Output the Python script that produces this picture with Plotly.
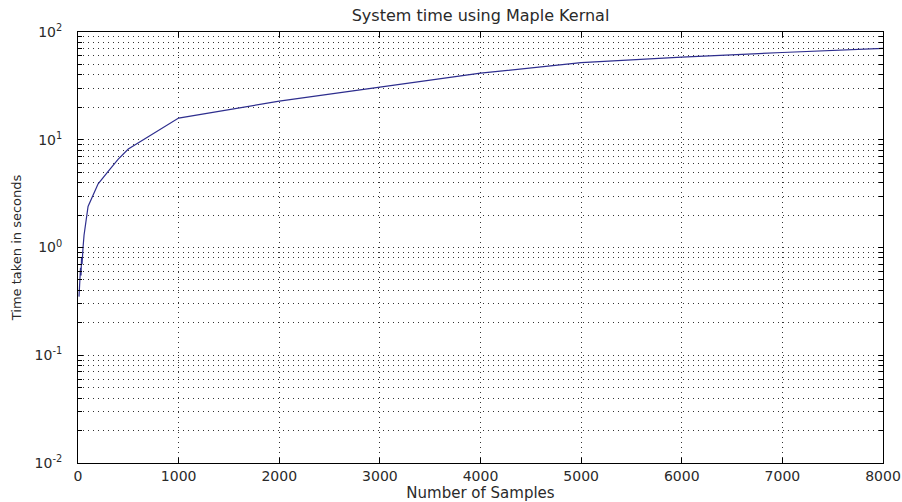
import plotly.graph_objects as go

samples = [10, 15, 20, 25, 30, 35, 40, 50, 60, 100, 200, 300, 400, 500, 1000,
           2000, 3000, 4000, 5000, 6000, 7000, 8000]
seconds = [0.35, 0.5, 0.42, 0.65, 0.55, 0.8, 0.7, 1.0, 1.3, 2.4, 3.9, 5.1, 6.6, 8.2, 15.9,
           22.8, 31.0, 41.5, 52.0, 58.5, 64.5, 70.5]

ytickvals = [0.01, 0.1, 1, 10, 100]
yticktext = ["10<sup>-2</sup>", "10<sup>-1</sup>", "10<sup>0</sup>", "10<sup>1</sup>", "10<sup>2</sup>"]
xtickvals = [0, 1000, 2000, 3000, 4000, 5000, 6000, 7000, 8000]

font = "DejaVu Sans, Verdana, sans-serif"
txtc = "#2a2a2a"
gridc = "#333333"
dash = "1px,4px"

fig = go.Figure()
fig.add_trace(go.Scatter(x=samples, y=seconds, mode="lines",
                         line=dict(color="#2e2e8e", width=1.2), showlegend=False))

fig.update_layout(
    width=902, height=502,
    margin=dict(l=78, r=19, t=32, b=39, autoexpand=False),
    paper_bgcolor="white", plot_bgcolor="white",
    font=dict(family=font, size=13, color=txtc),
    title=dict(text="System time using Maple Kernal", x=0.5, xref="paper", xanchor="center",
               y=1 - 15 / 502, yref="container", yanchor="middle",
               font=dict(family=font, size=16, color=txtc)),
)
fig.update_xaxes(
    range=[0, 8000], tickvals=xtickvals, ticktext=[str(v) for v in xtickvals],
    showgrid=True, gridcolor=gridc, griddash=dash, gridwidth=1,
    showline=True, linecolor="black", linewidth=1, mirror="ticks",
    ticks="inside", ticklen=5, tickcolor="black", zeroline=False,
    tickfont=dict(size=14), automargin=False,
    title=dict(text="Number of Samples", font=dict(size=15), standoff=1),
)
fig.update_yaxes(
    type="log", range=[-2, 2], tickvals=ytickvals, ticktext=yticktext,
    showgrid=True, gridcolor=gridc, griddash=dash, gridwidth=1,
    showline=True, linecolor="black", linewidth=1, mirror="ticks",
    ticks="inside", ticklen=5, tickcolor="black", zeroline=False,
    tickfont=dict(size=14), automargin=False, ticklabelstandoff=12,
    minor=dict(dtick="D1", showgrid=True, gridcolor=gridc, griddash=dash,
               ticks="inside", ticklen=4, tickcolor="black"),
    title=dict(text="Time taken in seconds", font=dict(size=13), standoff=10),
)

fig.write_html("out.html")
